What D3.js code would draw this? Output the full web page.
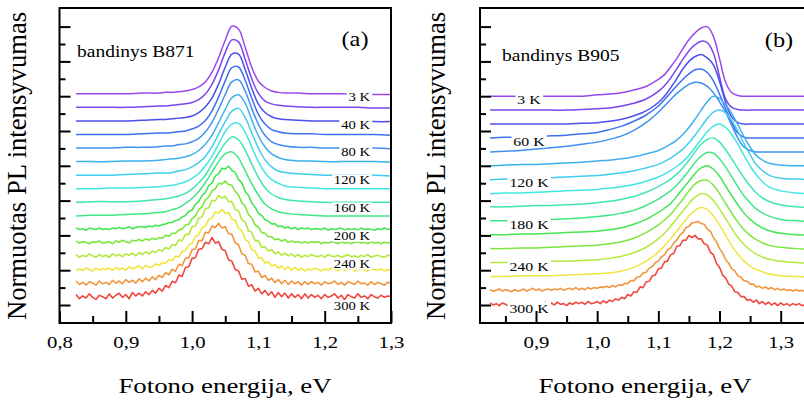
<!DOCTYPE html>
<html>
<head>
<meta charset="utf-8">
<script src="https://cdn.jsdelivr.net/npm/d3@7"></script>
<style>
  body { margin: 0; background: #fff; }
  svg { display: block; }
  text { font-family: "Liberation Serif", "Times New Roman", serif; fill: #000; }
</style>
</head>
<body>
<svg id="chart" width="804" height="401"></svg>
<script>
// temperatures of the spectra, top (3 K) to bottom (300 K)
const temps = [3, 20, 40, 60, 80, 100, 120, 140, 160, 180, 200, 220, 240, 260, 280, 300];
const labelTempsA = [3, 40, 80, 120, 160, 200, 240, 300];
const labelTempsB = [3, 60, 120, 180, 240, 300];

const ticksMajorA = [0.8, 0.9, 1.0, 1.1, 1.2, 1.3];
const ticksMinorA = [0.85, 0.95, 1.05, 1.15, 1.25];
const ticksMajorB = [0.9, 1.0, 1.1, 1.2, 1.3];
const ticksMinorB = [0.85, 0.95, 1.05, 1.15, 1.25, 1.35];
const ticksY = [0, 0.5, 1, 1.5, 2, 2.5, 3, 3.5, 4];
const ticksYMinor = [0.25, 0.75, 1.25, 1.75, 2.25, 2.75, 3.25, 3.75];

// photon energy grids (eV)
const energyA = [0.825,0.85,0.875,0.9,0.925,0.95,0.96,0.97,0.98,0.99,1.0,1.01,1.02,1.03,1.04,1.05,1.06,1.07,1.08,1.09,1.10,1.11,1.12,1.13,1.14,1.16,1.18,1.20,1.225,1.25,1.275,1.30];
const energyAFine = [0.825,0.83,0.835,0.84,0.845,0.85,0.855,0.86,0.865,0.87,0.875,0.88,0.885,0.89,0.895,0.9,0.905,0.91,0.915,0.92,0.925,0.93,0.935,0.94,0.945,0.95,0.955,0.96,0.965,0.97,0.975,0.98,0.985,0.99,0.995,1.0,1.005,1.01,1.015,1.02,1.025,1.03,1.035,1.04,1.045,1.05,1.055,1.06,1.065,1.07,1.075,1.08,1.085,1.09,1.095,1.1,1.105,1.11,1.115,1.12,1.125,1.13,1.135,1.14,1.145,1.15,1.155,1.16,1.165,1.17,1.175,1.18,1.185,1.19,1.195,1.2,1.205,1.21,1.215,1.22,1.225,1.23,1.235,1.24,1.245,1.25,1.255,1.26,1.265,1.27,1.275,1.28,1.285,1.29,1.295,1.3];
const energyB = [0.825,0.85,0.875,0.9,0.925,0.95,0.975,1.0,1.02,1.04,1.06,1.08,1.1,1.11,1.12,1.13,1.14,1.15,1.16,1.17,1.18,1.19,1.2,1.21,1.22,1.23,1.24,1.25,1.26,1.28,1.3,1.325,1.35];
const energyBFine = [0.825,0.83,0.835,0.84,0.845,0.85,0.855,0.86,0.865,0.87,0.875,0.88,0.885,0.89,0.895,0.9,0.905,0.91,0.915,0.92,0.925,0.93,0.935,0.94,0.945,0.95,0.955,0.96,0.965,0.97,0.975,0.98,0.985,0.99,0.995,1.0,1.005,1.01,1.015,1.02,1.025,1.03,1.035,1.04,1.045,1.05,1.055,1.06,1.065,1.07,1.075,1.08,1.085,1.09,1.095,1.1,1.105,1.11,1.115,1.12,1.125,1.13,1.135,1.14,1.145,1.15,1.155,1.16,1.165,1.17,1.175,1.18,1.185,1.19,1.195,1.2,1.205,1.21,1.215,1.22,1.225,1.23,1.235,1.24,1.245,1.25,1.255,1.26,1.265,1.27,1.275,1.28,1.285,1.29,1.295,1.3,1.305,1.31,1.315,1.32,1.325,1.33,1.335,1.34,1.345,1.35];

// normalised PL intensity, % of peak — sample B871 (200-300 K read on the fine grid)
const plA = [
  [1,1,1,1,2,2,3,3,4,5,7,11,18,32,53,78,98,94,68,39,19,10,5,3,2,2,1,1,1,0,0,0],
  [1,1,1,1,2,3,3,4,5,6,8,12,20,34,55,80,98,95,70,42,21,10,6,4,3,2,1,1,1,1,0,0],
  [1,1,1,1,2,3,3,4,5,6,8,13,21,34,54,78,97,97,75,48,25,13,7,4,3,2,1,1,1,1,0,0],
  [1,1,1,1,2,3,3,4,5,6,9,13,21,35,55,78,97,98,79,53,30,16,8,5,3,2,2,1,1,1,1,0],
  [1,1,1,2,2,3,4,4,6,7,10,15,24,38,57,78,96,99,83,58,35,19,10,6,4,2,2,1,1,1,1,0],
  [1,1,1,2,2,3,4,5,6,8,11,17,26,39,57,76,93,97,85,61,38,22,12,7,4,2,2,1,1,1,1,0],
  [1,1,1,2,3,4,4,5,7,9,13,19,28,42,60,78,93,97,84,62,40,23,13,7,5,3,2,1,1,1,1,0],
  [1,1,2,2,3,4,5,6,8,11,16,23,34,48,65,83,94,95,82,61,40,24,14,9,5,3,2,1,1,1,1,1],
  [1,2,2,2,3,5,6,8,10,14,20,29,40,56,72,86,95,91,76,56,37,22,13,8,5,3,2,1,1,1,1,1],
  [1,2,2,3,4,6,7,10,13,19,26,36,49,64,79,90,93,84,66,47,31,18,11,7,5,3,2,1,1,1,1,1],
  [3,1,2,0,3,2,1,3,1,2, 1,3,2,4,2,3,5,2,4,5, 5,4,6,5,7,6,8,9,11,11, 14,15,19,21,27,29,37,41,50,54, 64,68,78,81,89,88,92,86,83,73, 68,56,50,39,33,24,21,15,13,9, 9,5,6,3,5,2,4,1,3,2, 3,1,2, 2,1,3,0,2,1,2,3,0,2,1,2,0,3,1,2,1,0,2,1,3,1,2],
  [4,1,3,2,0,3,2,4,1,2, 3,0,4,2,5,3,1,5,4,6, 4,7,5,8,6,9,8,12,11,15, 15,20,21,27,28,36,40,49,53,63, 67,76,79,87,86,90,85,84,75,70, 59,54,42,37,27,24,16,15,10,10, 6,7,4,6,2,4,2,3,1,3, 1,3,2, 3,0,2,1,3,2,0,3,1,2,0,2,3,1,2,0,3,1,2,0,2,1,2],
  [4,0,3,1,5,2,0,4,1,3, 0,5,2,4,1,5,3,6,2,7, 4,8,5,9,7,11,9,14,12,18, 17,25,24,33,33,44,45,56,58,70, 71,82,81,89,85,88,80,80,69,67, 54,51,38,36,24,24,14,15,9,11, 5,8,3,6,2,5,1,4,0,3, 1,4,2, 1,3,0,4,2,1,3,0,2,4,1,2,0,3,1,4,0,2,3,1,0,3,2],
  [0,3,1,4,2,0,4,1,3,2, 4,1,5,2,4,1,6,3,5,7, 3,8,5,6,10,8,12,11,16,15, 21,20,28,29,37,40,49,52,62,64, 74,76,85,83,88,83,84,74,73,61, 58,45,42,30,29,18,19,11,13,7, 9,4,7,2,6,1,5,1,4,0, 3,1,4, 2,0,3,1,4,2,0,3,1,2,4,0,2,3,1,0,3,2,1,3,0,2,1],
  [5,0,3,-1,4,2,-1,5,1,3, 0,6,2,5,1,7,3,6,2,8, 4,9,5,11,7,13,10,17,14,22, 19,29,27,38,38,50,51,63,63,75, 74,84,82,88,81,83,73,72,60,57, 44,42,30,29,18,19,10,13,6,9, 3,7,1,6,0,5,1,4,-1,4, 0,4,1, 3,-1,4,1,2,5,0,3,-1,4,2,0,5,1,2,-1,4,0,3,1,-1,3,2],
  [5,-1,3,0,6,1,-2,4,2,-1, 6,0,4,7,1,5,-1,8,3,7, 3,9,5,11,7,14,10,18,15,24, 22,33,31,44,45,57,58,70,71,80, 78,87,79,81,70,68,55,53,41,39, 27,28,17,19,10,14,6,11,4,9, 1,8,2,7,0,6,1,5,-1,6, 0,5,1, 4,-1,5,1,3,6,0,4,-2,5,2,0,6,1,3,-1,5,2,0,4,1,3,2]
];

// normalised PL intensity, % of peak — sample B905 (280 and 300 K read on the fine grid)
const plB = [
  [0,0,0,0,0,0,0,2,3,5,9,14,24,31,42,54,68,81,91,98,100,86,54,20,5,1,0,0,0,0,0,0,0],
  [0,0,0,0,0,0,1,2,3,6,10,16,27,35,46,59,73,85,94,99,97,82,48,16,4,1,0,0,0,0,0,0,0],
  [0,0,0,0,0,0,1,2,4,7,12,19,31,40,52,65,79,90,97,100,95,85,61,31,10,2,0,0,0,0,0,0,0],
  [0,1,1,2,3,4,6,8,12,17,24,33,46,55,65,75,84,92,98,99,94,82,63,42,22,7,1,0,0,0,0,0,0],
  [0,1,2,4,6,8,11,14,18,23,31,42,57,66,75,84,91,97,100,99,94,85,72,57,38,20,7,2,0,0,0,0,0],
  [0,1,2,2,3,4,5,7,8,10,13,17,22,26,31,37,45,55,67,80,92,100,97,88,75,59,42,27,15,4,1,0,0],
  [0,1,1,2,3,4,5,6,8,10,13,17,22,26,31,37,44,53,64,76,88,97,100,96,85,70,52,36,22,7,2,1,0],
  [0,1,1,2,3,4,5,6,8,10,13,18,24,28,33,39,46,55,66,78,89,97,100,95,85,71,55,40,27,10,4,1,0],
  [1,1,2,3,3,4,5,7,9,12,16,22,30,35,41,48,57,68,80,91,98,100,94,83,70,56,43,31,21,9,4,1,0],
  [1,1,2,2,3,4,5,7,9,12,16,23,32,38,44,52,62,73,85,94,99,98,90,78,64,50,37,27,18,8,3,1,0],
  [1,1,2,2,3,4,5,6,8,11,16,23,33,39,46,56,67,78,89,97,100,95,85,71,57,44,32,23,16,7,3,1,0],
  [1,1,2,2,3,4,5,6,8,11,16,24,35,42,50,61,72,84,94,99,99,92,80,66,52,39,28,20,14,6,3,1,0],
  [1,1,2,2,3,3,4,5,7,10,15,23,35,43,53,64,75,86,95,100,98,90,78,64,50,37,27,19,13,6,3,1,0],
  [1,1,2,2,2,3,4,5,6,9,14,23,36,45,55,66,77,88,96,100,97,88,75,60,45,33,23,16,11,5,2,1,0],
  [2,0,1,3,0,2,1,-1,2,0, 1,3,0,2,4,1,3,0,2,3, 1,3,2,4,1,3,4,2,5,2, 4,2,5,3,5,4,6,5,7,5, 8,6,9,8,11,11,15,15,20,21, 26,27,33,35,41,43,49,52,59,62, 69,73,80,84,91,93,98,99,100,97, 96,89,86,77,71,61,55,45,40,32, 29,22,20,15,14,10,10,6,7,4, 6,3,5,2,4,1,3,1,2,0, 2,0,1,-1,1,0],
  [3,0,2,-1,3,1,-1,2,0,3, -1,2,0,3,1,-1,2,0,4,1, 3,0,4,1,2,-1,3,1,4,2, 4,1,5,2,3,5,2,6,3,7, 5,9,7,11,9,15,13,19,18,26, 25,33,34,42,43,52,53,62,63,72, 74,84,85,93,93,100,97,100,95,95, 88,86,76,72,60,54,43,39,30,27, 19,18,12,12,7,8,4,7,2,5, 1,4,0,3,-1,3,0,2,-1,2, 0,2,-1,1,0,1]
];

const colors = ["#9a48ee", "#7a45ec", "#4a50ee", "#3f70ee", "#3f90ee", "#3fb0ee",
  "#3fcdee", "#3fe6e2", "#3fe6b4", "#3fe684", "#45e652", "#7ce63f",
  "#b4e83f", "#eee63f", "#ef963f", "#ef483f"];

const svg = d3.select("#chart");
const y = d3.scaleLinear().domain([0, 4]).range([305, 26.6]);
const fmt = d => d3.format(".1f")(d).replace(".", ",");
const SX = 1.22; // the figure text is wide

function stext(parent, x, yy, str, size, anchor) {
  return parent.append("text")
    .attr("transform", `translate(${x},${yy}) scale(${SX},1)`)
    .attr("text-anchor", anchor || "start")
    .style("font-size", size + "px")
    .text(str);
}

function drawPanel(p) {
  const g = svg.append("g");
  const x = d3.scaleLinear().domain(p.xDomain).range(p.xRange);
  const frame = { x: x(p.xFrame[0]), y: 8, w: x(p.xFrame[1]) - x(p.xFrame[0]), h: 315 };

  g.append("clipPath").attr("id", "clip" + p.name)
    .append("rect").attr("x", frame.x).attr("y", frame.y)
    .attr("width", frame.w).attr("height", frame.h);

  const curves = g.append("g").attr("clip-path", `url(#clip${p.name})`);
  const n = p.series.length;

  p.series.forEach((vals, i) => {
    const off = p.base + (n - 1 - i) * p.step;
    const fine = vals.length === p.fineGrid.length;
    const grid = fine ? p.fineGrid : p.grid;
    const line = d3.line()
      .x((d, j) => x(grid[j]))
      .y(d => y(off + d / 100))
      .curve(fine ? d3.curveLinear : d3.curveCatmullRom.alpha(0.5));
    curves.append("path")
      .datum(vals)
      .attr("d", line)
      .attr("fill", "none")
      .attr("stroke", colors[i])
      .attr("stroke-width", fine ? 1.6 : 1.5)
      .attr("stroke-linejoin", "round");
  });

  // temperature labels with white boxes
  p.series.forEach((vals, i) => {
    const T = temps[i];
    if (!p.labels.includes(T)) return;
    const off = p.base + (n - 1 - i) * p.step;
    const lg = curves.append("g")
      .attr("transform", `translate(${p.labelX},${y(off) + p.labelDy(i)}) scale(${SX},1)`);
    const t = lg.append("text")
      .attr("text-anchor", p.labelAnchor)
      .attr("dy", "0.35em")
      .style("font-size", p.labelSize + "px")
      .text(T + " K");
    const bb = t.node().getBBox();
    lg.insert("rect", "text")
      .attr("x", bb.x - 1.5).attr("y", bb.y + 1)
      .attr("width", bb.width + 3).attr("height", bb.height - 2)
      .attr("fill", "#fff");
  });

  // axes (ticks inward)
  const bottom = g.append("g").attr("transform", `translate(0,${frame.y + frame.h})`);
  bottom.append("g").call(d3.axisBottom(x).tickValues(p.majors).tickSize(-12).tickPadding(13).tickFormat(fmt));
  bottom.append("g").call(d3.axisBottom(x).tickValues(p.minors).tickSize(-7).tickFormat(""));
  const left = g.append("g").attr("transform", `translate(${frame.x},0)`);
  left.append("g").call(d3.axisLeft(y).tickValues(ticksY).tickSize(-11).tickFormat(""));
  left.append("g").call(d3.axisLeft(y).tickValues(ticksYMinor).tickSize(-6).tickFormat(""));
  g.selectAll(".domain").remove();
  g.selectAll(".tick line").attr("stroke", "#000").attr("stroke-width", 2);
  bottom.selectAll(".tick text")
    .attr("transform", `scale(${SX},1)`)
    .attr("font-family", null).attr("font-size", null)
    .style("font-size", "17px").attr("fill", "#000");

  g.append("rect")
    .attr("x", frame.x).attr("y", frame.y)
    .attr("width", frame.w).attr("height", frame.h)
    .attr("fill", "none").attr("stroke", "#000").attr("stroke-width", 2);

  stext(g, p.sample[1], p.sample[2], p.sample[0], 16);
  stext(g, p.tag[1], p.tag[2], p.tag[0], 20, "middle");
  stext(g, p.xLabelX, 393, "Fotono energija, eV", 22, "middle");
  g.append("text")
    .attr("transform", `translate(${p.yLabelX},166) rotate(-90) scale(1.11,1.12)`)
    .attr("text-anchor", "middle")
    .attr("dy", "0.35em")
    .style("font-size", "24px")
    .text("Normuotas PL intensyvumas");
}

drawPanel({
  name: "A", series: plA, grid: energyA, fineGrid: energyAFine,
  xDomain: [0.8, 1.3], xRange: [59.5, 391], xFrame: [0.8, 1.3],
  base: 0.1, step: 0.195,
  majors: ticksMajorA, minors: ticksMinorA,
  labels: labelTempsA, labelX: 370, labelAnchor: "end", labelSize: 12,
  labelDy: i => 2 + i * 0.37,
  sample: ["bandinys B871", 77, 57], tag: ["(a)", 355, 46],
  xLabelX: 225, yLabelX: 17
});

drawPanel({
  name: "B", series: plB, grid: energyB, fineGrid: energyBFine,
  xDomain: [0.9, 1.3], xRange: [536, 780.7], xFrame: [0.8085, 1.35],
  base: 0, step: 0.2,
  majors: ticksMajorB, minors: ticksMinorB,
  labels: labelTempsB, labelX: 529, labelAnchor: "middle", labelSize: 13,
  labelDy: () => 3,
  sample: ["bandinys B905", 502, 61], tag: ["(b)", 779, 47],
  xLabelX: 645, yLabelX: 436
});
</script>
</body>
</html>
